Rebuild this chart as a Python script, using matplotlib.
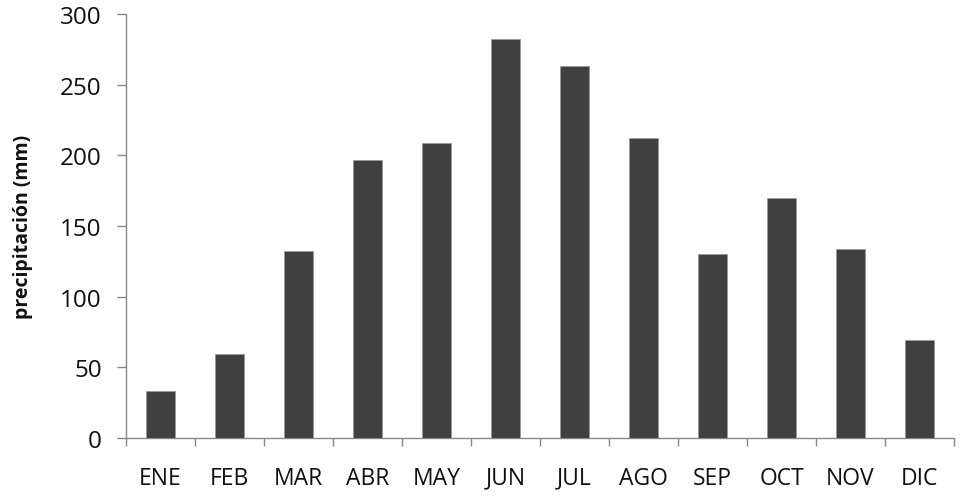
import matplotlib
matplotlib.use("Agg")
import matplotlib.pyplot as plt
import numpy as np

months = ["ENE", "FEB", "MAR", "ABR", "MAY", "JUN", "JUL", "AGO", "SEP", "OCT", "NOV", "DIC"]
precip = [33.5, 59.5, 132, 196.5, 209, 282, 263.5, 212, 130.5, 169.5, 134, 69.5]
yticks = [0, 50, 100, 150, 200, 250, 300]

plt.rcParams['font.family'] = ['Open Sans', 'DejaVu Sans']

fig = plt.figure(figsize=(9.7, 5.02), dpi=100)
ax = fig.add_axes([0.13, 0.1255, 0.8535, 0.8445])

x = np.arange(len(months))
ax.bar(x, precip, width=0.41, color="#404040", edgecolor="#9a9a9a", linewidth=0.6, zorder=3)

ax.set_xlim(-0.5, len(months) - 0.5)
ax.set_ylim(0, 300)
ax.set_yticks(yticks)
ax.set_yticklabels([str(v) for v in yticks], fontsize=17.5, color="#111111")

ax.set_xticks(x)
ax.set_xticklabels(months, fontsize=16.5, color="#111111")
ax.set_xticks(np.arange(-0.5, len(months) - 0.4, 1), minor=True)
ax.tick_params(axis="x", which="major", length=0, pad=20)
ax.tick_params(axis="x", which="minor", length=6, color="#888888", width=1)
ax.tick_params(axis="y", length=6.5, color="#888888", width=1, pad=11)

for s in ["top", "right"]:
    ax.spines[s].set_visible(False)
for s in ["left", "bottom"]:
    ax.spines[s].set_color("#888888")
    ax.spines[s].set_linewidth(1)

ax.set_ylabel("precipitación (mm)", fontsize=14, fontweight="bold", color="#111111")
ax.yaxis.set_label_coords(-0.113, 0.5)

fig.savefig("out.png", dpi=100, facecolor="white")
